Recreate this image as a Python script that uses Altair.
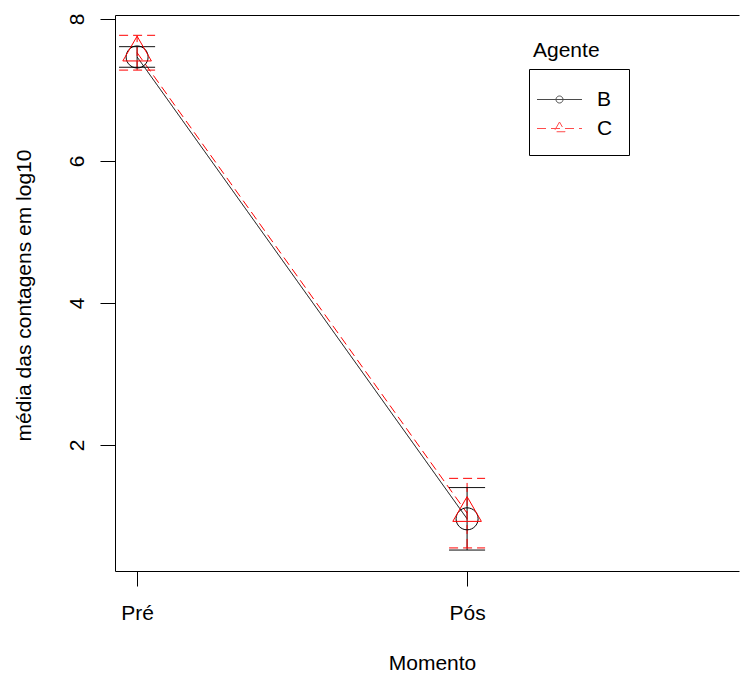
import altair as alt
import pandas as pd

# ---------------- data ----------------
momento = ["Pré", "Pós"]
agente = ["B", "C"]
media_B = [7.465, 0.96]
media_C = [7.525, 1.04]
inf_B = [7.32, 0.52]
sup_B = [7.61, 1.40]
inf_C = [7.28, 0.55]
sup_C = [7.77, 1.53]

rows = []
for ag, med, lo, hi in [("B", media_B, inf_B, sup_B), ("C", media_C, inf_C, sup_C)]:
    for i, m in enumerate(momento):
        rows.append({"Agente": ag, "Momento": m, "pos": i + 1,
                     "media": med[i], "inf": lo[i], "sup": hi[i]})
df = pd.DataFrame(rows)

FONT = "Liberation Sans"
FS = 21
W, H = 624, 556

label_expr = "[" + ",".join("'" + m + "'" for m in momento) + "][datum.value - 1]"

xscale = alt.Scale(domain=[0.933, 2.824], nice=False, zero=False)
yscale = alt.Scale(domain=[0.225, 8.056], nice=False, zero=False)

x_bottom_axis = alt.Axis(values=[1, 2], labelExpr=label_expr, title="Momento",
                         tickSize=15, labelPadding=33, labelBaseline="alphabetic",
                         labelFlush=False, titleX=317, titleY=98,
                         titleBaseline="alphabetic", titleAlign="center", grid=False)
x_top_axis = alt.Axis(orient="top", labels=False, ticks=False, title=None,
                      domain=True, grid=False)
y_axis = alt.Axis(values=[2, 4, 6, 8], title="média das contagens em log10",
                  labelAngle=270, labelAlign="center", labelBaseline="alphabetic",
                  labelPadding=17, tickSize=15, labelFlush=False,
                  titleAngle=270, titleX=-85, titleY=280, titleAlign="center",
                  titleBaseline="alphabetic", grid=False)

color_scale = alt.Scale(domain=agente, range=["black", "red"])
dash_scale = alt.Scale(domain=agente, range=[[1, 0], [9, 5]])

# legend symbols: line sample with small marker (unit = 14 px)
leg_B = "M-1.607,0L1.607,0M0.25,0A0.25,0.25,0,1,1,-0.25,0A0.25,0.25,0,1,1,0.25,0"
leg_C = "M-1.607,0L1.607,0M0,-0.464L-0.402,0.232L0.402,0.232Z"
shape_scale = alt.Scale(domain=agente, range=[leg_B, leg_C])

leg = alt.Legend(title=None, orient="none", legendX=414, legendY=54,
                 strokeColor="black", fillColor="white", padding=16,
                 symbolSize=784, symbolStrokeWidth=1, labelFontSize=FS,
                 labelFont=FONT, labelColor="black", labelOffset=23, rowPadding=4)

base = alt.Chart(df)

legend_layer = base.transform_filter("false").mark_point(filled=False, size=784, strokeWidth=1).encode(
    x=alt.X("pos:Q", scale=xscale, axis=x_bottom_axis),
    y=alt.Y("media:Q", scale=yscale, axis=y_axis),
    color=alt.Color("Agente:N", scale=color_scale, legend=leg),
    shape=alt.Shape("Agente:N", scale=shape_scale, legend=leg),
    strokeDash=alt.StrokeDash("Agente:N", scale=dash_scale, legend=leg),
)

lines = base.mark_line(strokeWidth=1).encode(
    x=alt.X("pos:Q", scale=xscale, axis=None),
    y=alt.Y("media:Q", scale=yscale, axis=y_axis),
    color=alt.Color("Agente:N", scale=color_scale),
    strokeDash=alt.StrokeDash("Agente:N", scale=dash_scale),
    detail="Agente:N",
)

err = base.mark_rule(strokeWidth=1).encode(
    x=alt.X("pos:Q", scale=xscale, axis=None),
    y=alt.Y("inf:Q", scale=yscale, axis=y_axis),
    y2="sup:Q",
    color=alt.Color("Agente:N", scale=color_scale),
    strokeDash=alt.StrokeDash("Agente:N", scale=dash_scale),
)

caps = base.transform_fold(["inf", "sup"], as_=["k", "v"]).mark_rule(
    strokeWidth=1, xOffset=-18, x2Offset=18).encode(
    x=alt.X("pos:Q", scale=xscale, axis=None),
    x2="pos:Q",
    y=alt.Y("v:Q", scale=yscale, axis=y_axis),
    color=alt.Color("Agente:N", scale=color_scale),
    strokeDash=alt.StrokeDash("Agente:N", scale=dash_scale),
)

circ = "M0.667,0A0.667,0.667,0,1,1,-0.667,0A0.667,0.667,0,1,1,0.667,0"
tri = "M0,-1L-0.866,0.5L0.866,0.5Z"
points = base.mark_point(filled=False, size=1089, strokeWidth=1, opacity=1).encode(
    x=alt.X("pos:Q", scale=xscale, axis=x_top_axis),
    y=alt.Y("media:Q", scale=yscale, axis=y_axis),
    color=alt.Color("Agente:N", scale=color_scale),
    shape=alt.condition("datum.Agente == 'B'", alt.value(circ), alt.value(tri)),
)

chart = alt.layer(legend_layer, lines, err, caps, points).resolve_axis(
    x="independent"
).properties(
    width=W, height=H,
    background="white",
    padding={"left": 115, "top": 15, "right": 1, "bottom": 104},
    autosize=alt.AutoSizeParams(type="none"),
    title=alt.TitleParams("Agente", anchor="start", frame="group", fontSize=FS,
                          font=FONT, fontWeight="normal", color="black",
                          baseline="alphabetic", offset=0, dx=418, dy=65),
).configure_view(stroke=None).configure_axis(
    labelFont=FONT, titleFont=FONT, labelFontSize=FS, titleFontSize=FS,
    labelColor="black", titleColor="black", titleFontWeight="normal",
    domainColor="black", tickColor="black", domainWidth=1, tickWidth=1,
)

chart.save("out.html", embed_options={"renderer": "svg", "actions": False})
